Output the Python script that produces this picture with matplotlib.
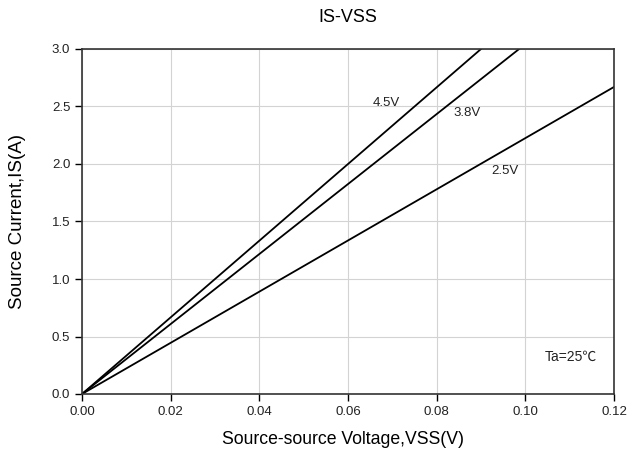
import matplotlib
matplotlib.use("Agg")
import matplotlib.pyplot as plt

# values
vss_45 = [0.0, 0.04, 0.090]
is_45 = [0.0, 1.333, 3.0]
vss_38 = [0.0, 0.04, 0.0986]
is_38 = [0.0, 1.217, 3.0]
vss_25 = [0.0, 0.06, 0.12]
is_25 = [0.0, 1.335, 2.67]
curve_labels = ["4.5V", "3.8V", "2.5V"]
label_pos = [(0.0655, 2.50), (0.0838, 2.42), (0.0923, 1.91)]
x_ticks = [0.00, 0.02, 0.04, 0.06, 0.08, 0.10, 0.12]
y_ticks = [0.0, 0.5, 1.0, 1.5, 2.0, 2.5, 3.0]

plt.rcParams['font.family'] = ['Liberation Sans', 'DejaVu Sans']

fig = plt.figure(figsize=(6.28, 4.57), dpi=100)
ax = fig.add_axes([82 / 628, 1 - 394 / 457, 532 / 628, 345 / 457])

for xs, ys in [(vss_45, is_45), (vss_38, is_38), (vss_25, is_25)]:
    ax.plot(xs, ys, color='black', lw=1.3)

for text, (tx, ty) in zip(curve_labels, label_pos):
    ax.text(tx, ty, text, fontsize=9.5, color='#222222')
ax.text(0.1044, 0.287, "Ta=25℃", fontsize=10, color='#222222',
        family=['Liberation Sans', 'Noto Sans CJK SC'])

ax.set_xlim(0, 0.12)
ax.set_ylim(0, 3.0)
ax.set_xticks(x_ticks)
ax.set_yticks(y_ticks)
ax.set_xticklabels([f"{v:.2f}" for v in x_ticks])
ax.set_yticklabels([f"{v:.1f}" for v in y_ticks])
ax.tick_params(direction='out', length=5, width=1, labelsize=9.5, colors='black',
               labelcolor='#222222')
ax.grid(True, color='#d3d3d3', lw=0.8)
ax.set_axisbelow(True)
for s in ax.spines.values():
    s.set_color('#333333')
    s.set_linewidth(1.2)

fig.text(348 / 628, 1 - 17 / 457, "IS-VSS", fontsize=13, ha='center', va='center')
ax.set_xlabel("Source-source Voltage,VSS(V)", fontsize=12.7)
ax.xaxis.set_label_coords(0.49, -0.108)
ax.set_ylabel("Source Current,IS(A)", fontsize=13.5)
ax.yaxis.set_label_coords(-0.105, 0.5)

fig.savefig("out.png", dpi=100)
